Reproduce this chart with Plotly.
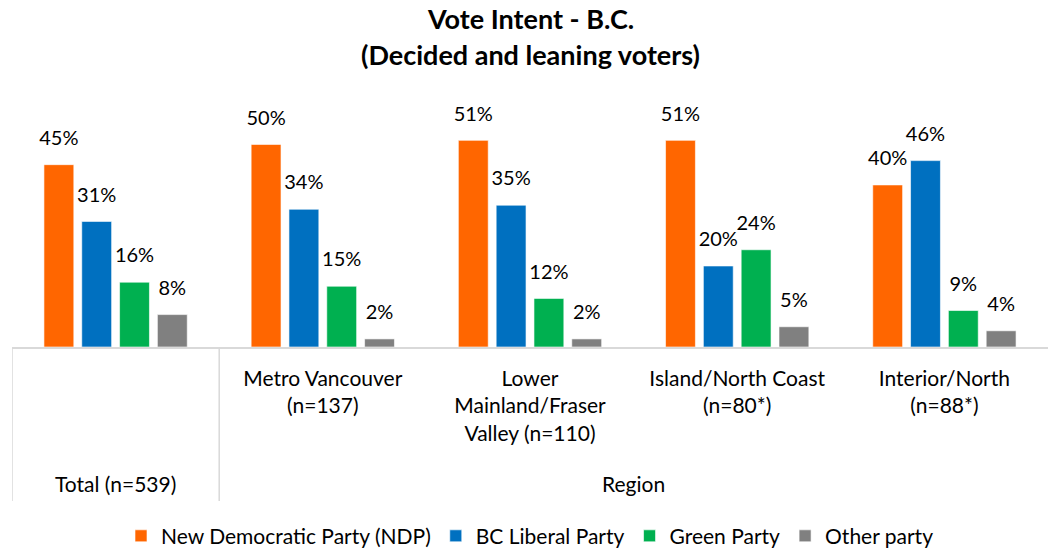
import plotly.graph_objects as go

categories = ["Total", "Metro Vancouver", "Lower Mainland/Fraser Valley", "Island/North Coast", "Interior/North"]
tick_labels = ["", "Metro Vancouver<br>(n=137)", "Lower<br>Mainland/Fraser<br>Valley (n=110)",
               "Island/North Coast<br>(n=80*)", "Interior/North<br>(n=88*)"]
outer_labels = ["Total (n=539)", "Region"]
title_lines = ["Vote Intent - B.C.", "(Decided and leaning voters)"]

series_names = ["New Democratic Party (NDP)", "BC Liberal Party", "Green Party", "Other party"]
ndp = [45, 50, 51, 51, 40]
liberal = [31, 34, 35, 20, 46]
green = [16, 15, 12, 24, 9]
other = [8, 2, 2, 5, 4]
colors = ["#FF6600", "#0070C0", "#00B050", "#808080"]

FONT = "Lato"
BLACK = "#000000"
fig = go.Figure()
for name, vals, col in zip(series_names, [ndp, liberal, green, other], colors):
    fig.add_trace(go.Bar(
        x=categories, y=vals, name=name,
        marker=dict(color=col, line=dict(color="rgba(255,255,255,0.6)", width=1)),
        hoverinfo="skip",
    ))
# value labels, grouped like the bars (scattermode="group")
for name, vals in zip(series_names, [ndp, liberal, green, other]):
    fig.add_trace(go.Scatter(
        x=categories, y=vals, mode="markers+text", showlegend=False,
        marker=dict(size=22, opacity=0),
        text=[f"{v}%" for v in vals], textposition="top center",
        textfont=dict(family=FONT, size=20, color=BLACK),
        cliponaxis=False, hoverinfo="skip",
    ))

grid_col = "#D9D9D9"
for xpos in [-0.5, 0.5]:
    fig.add_shape(type="line", xref="x", yref="paper", x0=xpos, x1=xpos, y0=0, y1=-0.655,
                  line=dict(color=grid_col, width=1.5))

fig.add_annotation(x=0, y=-0.58, xref="x", yref="paper", text=outer_labels[0], showarrow=False,
                   font=dict(family=FONT, size=21, color=BLACK), yanchor="middle")
fig.add_annotation(x=2.5, y=-0.58, xref="x", yref="paper", text=outer_labels[1], showarrow=False,
                   font=dict(family=FONT, size=21, color=BLACK), yanchor="middle")

for txt, ypix in zip(title_lines, [18, 55]):
    fig.add_annotation(x=0.5, xref="paper", y=(347 - ypix) / 235, yref="paper",
                       text=f"<b>{txt}</b>", showarrow=False, yanchor="middle",
                       font=dict(family=FONT, size=27, color=BLACK))

fig.update_layout(
    width=1049, height=548,
    paper_bgcolor="white", plot_bgcolor="white",
    margin=dict(l=12, r=1, t=112, b=201, autoexpand=False),
    barmode="group", bargap=0.27, bargroupgap=0.21,
    scattermode="group", scattergap=0.27,
    font=dict(family=FONT, size=21, color=BLACK),
    xaxis=dict(tickmode="array", tickvals=categories, ticktext=tick_labels,
               range=[-0.5, 4.5], automargin=False,
               showline=True, linecolor=grid_col, linewidth=1.5, ticks="",
               ticklabelstandoff=12,
               tickfont=dict(family=FONT, size=21, color=BLACK), showgrid=False),
    yaxis=dict(range=[0, 58], visible=False, automargin=False),
    legend=dict(orientation="h", x=0.5, xanchor="center", y=-0.805, yanchor="middle",
                font=dict(family=FONT, size=21, color=BLACK),
                itemwidth=30, traceorder="normal", bgcolor="rgba(0,0,0,0)"),
    showlegend=True,
)

fig.write_html("out.html", config={"displayModeBar": False},
               post_script="document.body.style.margin='0';")
